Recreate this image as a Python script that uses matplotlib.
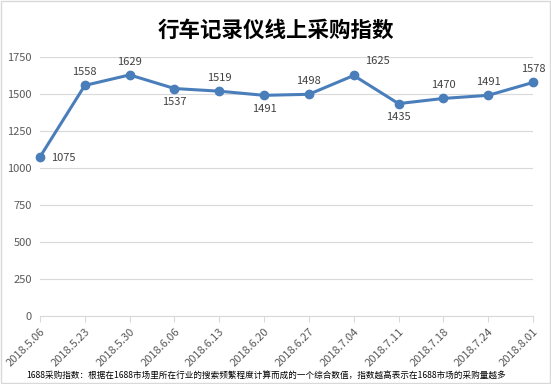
import numpy as np
import matplotlib.pyplot as plt

plt.rcParams['font.family'] = ['Noto Sans CJK SC', 'DejaVu Sans']

# 数据
dates = ['2018.5.06', '2018.5.23', '2018.5.30', '2018.6.06', '2018.6.13', '2018.6.20',
         '2018.6.27', '2018.7.04', '2018.7.11', '2018.7.18', '2018.7.24', '2018.8.01']
values = [1075, 1558, 1629, 1537, 1519, 1491, 1498, 1625, 1435, 1470, 1491, 1578]
# 标签位置
label_pos = ['right', 'up', 'up', 'down', 'up', 'down', 'up', 'upright', 'down', 'up', 'up', 'up']

fig = plt.figure(figsize=(5.51, 3.84), dpi=100)
ax = fig.add_axes([40 / 551, (384 - 316) / 384, (533 - 40) / 551, (316 - 57) / 384])

x = np.arange(len(dates))
blue = '#4a7ebb'
ax.plot(x, values, color=blue, lw=2.2, marker='o', ms=6, zorder=3, clip_on=False)

offsets = {'up': (0, 6, 'center', 'bottom'), 'down': (0, -6, 'center', 'top'),
           'right': (8, -1, 'left', 'center'), 'upright': (8, 7, 'left', 'bottom')}
for xi, v, p in zip(x, values, label_pos):
    dx, dy, ha, va = offsets[p]
    ax.annotate(str(v), (xi, v), xytext=(dx, dy), textcoords='offset points',
                ha=ha, va=va, fontsize=8, color='#404040')

ax.set_xlim(0, len(dates) - 1)
ax.set_ylim(0, 1750)
ax.set_yticks(np.arange(0, 1751, 250))
ax.grid(axis='y', color='#d9d9d9', lw=0.8)
ax.set_axisbelow(True)
for s in ['top', 'right', 'left']:
    ax.spines[s].set_visible(False)
ax.spines['bottom'].set_color('#d9d9d9')
ax.tick_params(axis='y', length=0, labelsize=8, labelcolor='#595959', pad=6)
ax.tick_params(axis='x', length=4, color='#d9d9d9', labelsize=8, labelcolor='#595959')
ax.set_xticks(x)
ax.set_xticklabels(dates, rotation=45, ha='right', rotation_mode='anchor')

fig.text(0.5, 1 - 30 / 384, '行车记录仪线上采购指数', ha='center', va='center',
         fontsize=15.5, fontweight='bold', color='black')
fig.text(26 / 551, 1 - 375 / 384,
         '1688采购指数：根据在1688市场里所在行业的搜索频繁程度计算而成的一个综合数值，指数越高表示在1688市场的采购量越多',
         ha='left', va='center', fontsize=6.2, color='black')

# 外框
fig.patches.append(plt.Rectangle((0.002, 0.003), 0.996, 0.994, transform=fig.transFigure,
                                 fill=False, ec='#d9d9d9', lw=1))

fig.savefig('out.png', dpi=100)
